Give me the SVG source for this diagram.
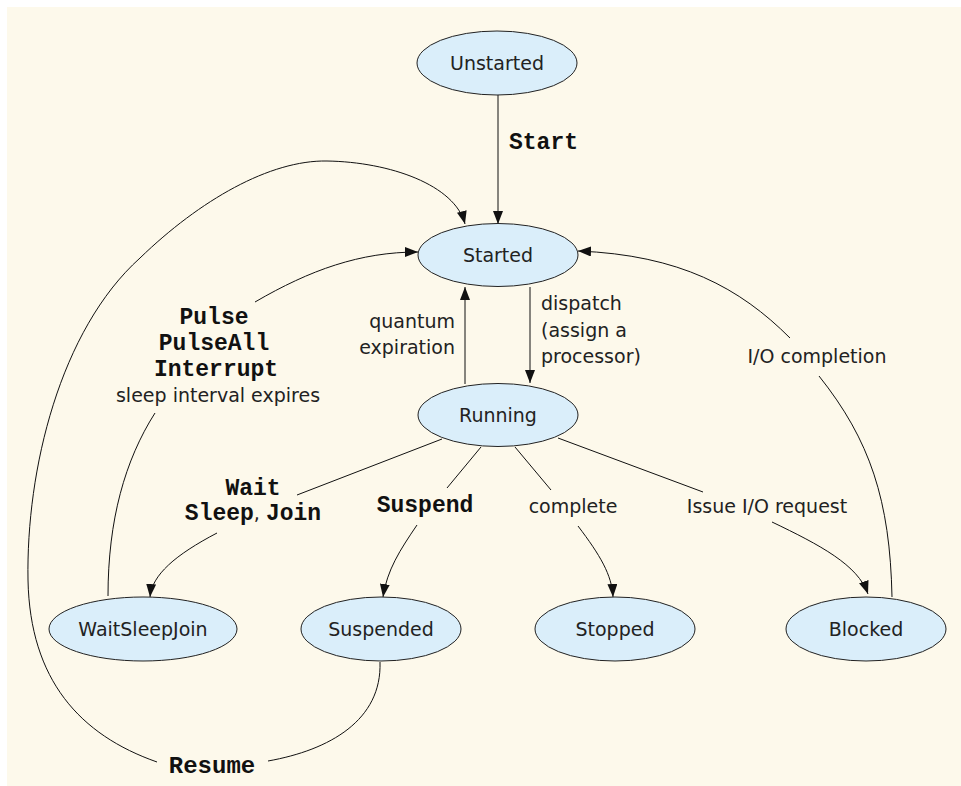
<svg xmlns="http://www.w3.org/2000/svg" width="961" height="786" viewBox="0 0 961 786">
<style>
.st ellipse{fill:#DAEEFA;stroke:#222;stroke-width:1}
.lbl{font-family:"DejaVu Sans","Noto Sans",sans-serif;font-size:19px;fill:#222}
.nl{font-family:"DejaVu Sans","Noto Sans",sans-serif;font-size:19px;fill:#222;text-anchor:middle}
.mono{font-family:"Liberation Mono","Courier New",monospace;font-weight:bold;font-size:23px;fill:#111}
.cn path{fill:none;stroke:#111;stroke-width:1}
</style>
<defs>
<marker id="ah" markerUnits="userSpaceOnUse" markerWidth="14" markerHeight="10" refX="13" refY="5" orient="auto">
<path d="M0,0 L13,5 L0,10 z" fill="#111"/>
</marker>
</defs>
<rect x="0" y="0" width="961" height="786" fill="#fff"/>
<rect x="7" y="7" width="954" height="779" fill="#FDF9EB"/>

<g id="connectors" class="cn">
<path d="M498,95 L498,224" marker-end="url(#ah)"/>
<path d="M465,384 L465,287" marker-end="url(#ah)"/>
<path d="M530,287 L530,383" marker-end="url(#ah)"/>
<path d="M442,439 L297,495"/>
<path d="M217,533 C175,555 152,575 150,597" marker-end="url(#ah)"/>
<path d="M481,447 L447,488"/>
<path d="M417,525 C400,550 387,570 383,597" marker-end="url(#ah)"/>
<path d="M515,447 L551,490"/>
<path d="M578,526 C600,555 612,575 613,597" marker-end="url(#ah)"/>
<path d="M558,438 L703,492"/>
<path d="M772,522 C820,545 858,565 868,594" marker-end="url(#ah)"/>
<path d="M108,596 C108,520 125,460 155,413"/>
<path d="M255,302 C310,270 360,252 418,252" marker-end="url(#ah)"/>
<path d="M892,597 C890,500 870,440 819,376"/>
<path d="M790,338 C740,288 680,255 578,251" marker-end="url(#ah)"/>
<path d="M380,662 C382,720 330,750 268,761"/>
<path d="M157,762 C80,735 30,680 28,580 C26,470 60,330 140,258 C200,200 270,160 327,161 C390,162 455,185 465,224" marker-end="url(#ah)"/>
</g>

<g id="unstarted" class="st"><ellipse cx="497" cy="63" rx="80" ry="32"/><text class="nl" x="497" y="70">Unstarted</text></g>
<g id="started" class="st"><ellipse cx="498" cy="255" rx="80" ry="31.5"/><text class="nl" x="498" y="262">Started</text></g>
<g id="running" class="st"><ellipse cx="498" cy="415" rx="80" ry="31.5"/><text class="nl" x="498" y="422">Running</text></g>
<g id="waitsleepjoin" class="st"><ellipse cx="143" cy="629" rx="94" ry="32"/><text class="nl" x="143" y="636">WaitSleepJoin</text></g>
<g id="suspended" class="st"><ellipse cx="381" cy="629" rx="80" ry="32"/><text class="nl" x="381" y="636">Suspended</text></g>
<g id="stopped" class="st"><ellipse cx="615" cy="629" rx="80" ry="32"/><text class="nl" x="615" y="636">Stopped</text></g>
<g id="blocked" class="st"><ellipse cx="866" cy="629" rx="80" ry="32"/><text class="nl" x="866" y="636">Blocked</text></g>

<g id="labels">
<text class="mono" x="509" y="149">Start</text>
<text class="lbl" x="455" y="328" text-anchor="end">quantum</text>
<text class="lbl" x="455" y="354" text-anchor="end">expiration</text>
<text class="lbl" x="541" y="310">dispatch</text>
<text class="lbl" x="541" y="337">(assign a</text>
<text class="lbl" x="541" y="363">processor)</text>
<text class="mono" x="214" y="324" text-anchor="middle">Pulse</text>
<text class="mono" x="214" y="350" text-anchor="middle">PulseAll</text>
<text class="mono" x="216" y="376" text-anchor="middle">Interrupt</text>
<text class="lbl" x="218" y="402" text-anchor="middle">sleep interval expires</text>
<text class="lbl" x="817" y="363" text-anchor="middle">I/O completion</text>
<text class="mono" x="253" y="495" text-anchor="middle">Wait</text>
<text x="253" y="520" text-anchor="middle"><tspan class="mono">Sleep</tspan><tspan class="lbl">, </tspan><tspan class="mono">Join</tspan></text>
<text class="mono" x="425" y="512" text-anchor="middle">Suspend</text>
<text class="lbl" x="573" y="513" text-anchor="middle">complete</text>
<text class="lbl" x="767" y="513" text-anchor="middle">Issue I/O request</text>
<text class="mono" x="212" y="773" text-anchor="middle" style="font-size:24px">Resume</text>
</g>
</svg>
